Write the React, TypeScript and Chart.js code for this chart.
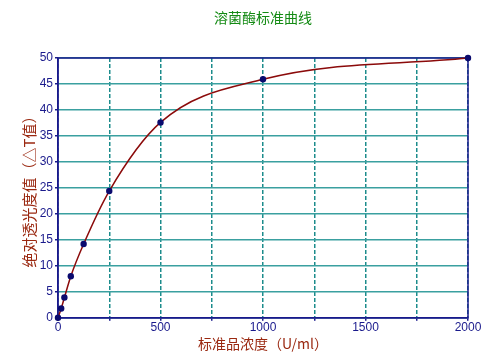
import React, { useEffect, useRef } from "react";
import { Chart, registerables } from "chart.js";

Chart.register(...registerables);

const concentrations = [0, 15.6, 31.25, 62.5, 125, 250, 500, 1000, 2000];
const deltaT = [0, 1.8, 3.9, 8.0, 14.2, 24.4, 37.6, 45.9, 50.0];
const titleText = "溶菌酶标准曲线";
const xTitle = "标准品浓度（U/ml）";
const yTitle = "绝对透光度值（△T值）";

const framePlugin = {
  id: "frame",
  beforeDatasetsDraw(chart: any) {
    const { ctx, chartArea } = chart;
    ctx.save();
    ctx.strokeStyle = "#1a1a8c";
    ctx.lineWidth = 1.5;
    ctx.strokeRect(chartArea.left, chartArea.top, chartArea.right - chartArea.left, chartArea.bottom - chartArea.top);
    ctx.fillStyle = "#138a13";
    ctx.font = "14px 'Noto Sans CJK SC'";
    ctx.textAlign = "center";
    ctx.textBaseline = "middle";
    ctx.fillText(titleText, (chartArea.left + chartArea.right) / 2, 18);
    ctx.restore();
  },
};

export default function App() {
  const ref = useRef<HTMLCanvasElement>(null);
  useEffect(() => {
    if (!ref.current) return;
    const pts = concentrations.map((x, i) => ({ x, y: deltaT[i] }));
    const chart = new Chart(ref.current, {
      type: "scatter",
      data: {
        datasets: [
          {
            data: pts,
            showLine: true,
            clip: false,
            borderColor: "#8b0a0a",
            borderWidth: 1.5,
            cubicInterpolationMode: "monotone",
            pointRadius: 3.2,
            pointBackgroundColor: "#0a0a6e",
            pointBorderColor: "#0a0a6e",
            pointBorderWidth: 0,
          } as any,
        ],
      },
      options: {
        animation: false,
        responsive: false,
        layout: { padding: { left: 0, right: 33, top: 58, bottom: 7 } },
        plugins: {
          legend: { display: false },
          tooltip: { enabled: false },
          title: { display: false },
        },
        scales: {
          x: {
            type: "linear",
            min: 0,
            max: 2000,
            border: { display: true, color: "#1a1a8c", width: 1.5, dash: [4, 2] },
            grid: {
              color: "#1c8c8c",
              lineWidth: 1.5,
              tickLength: 3,
              tickColor: "#1a1a8c",
            },
            ticks: {
              stepSize: 250,
              autoSkip: false,
              maxRotation: 0,
              padding: 0,
              color: "#1a1a8c",
              font: { family: "Liberation Sans", size: 12 },
              callback: (v: any) => (Number(v) % 500 === 0 ? String(v) : ""),
            },
            title: {
              display: true,
              text: xTitle,
              color: "#9a2810",
              font: { family: "Noto Sans CJK SC", size: 14 },
              padding: { top: 0, bottom: 0 },
            },
          } as any,
          y: {
            min: 0,
            max: 50,
            border: { display: true, color: "#1a1a8c", width: 1.5 },
            grid: { color: "#3aa0a0", lineWidth: 1.5, tickLength: 3, tickColor: "#1a1a8c" },
            ticks: {
              stepSize: 5,
              padding: 2,
              color: "#1a1a8c",
              font: { family: "Liberation Sans", size: 12 },
            },
            title: {
              display: true,
              text: yTitle,
              color: "#9a2810",
              font: { family: "Noto Sans CJK SC", size: 15 },
              padding: { top: 20, bottom: 0 },
            },
            afterFit: (scale: any) => {
              scale.width = 58;
            },
          } as any,
        },
      },
      plugins: [framePlugin],
    });
    return () => chart.destroy();
  }, []);
  return (
    <div style={{ position: "fixed", left: 0, top: 0, width: 501, height: 359, background: "#fff" }}>
      <canvas ref={ref} width={501} height={359} style={{ width: 501, height: 359 }} />
    </div>
  );
}
